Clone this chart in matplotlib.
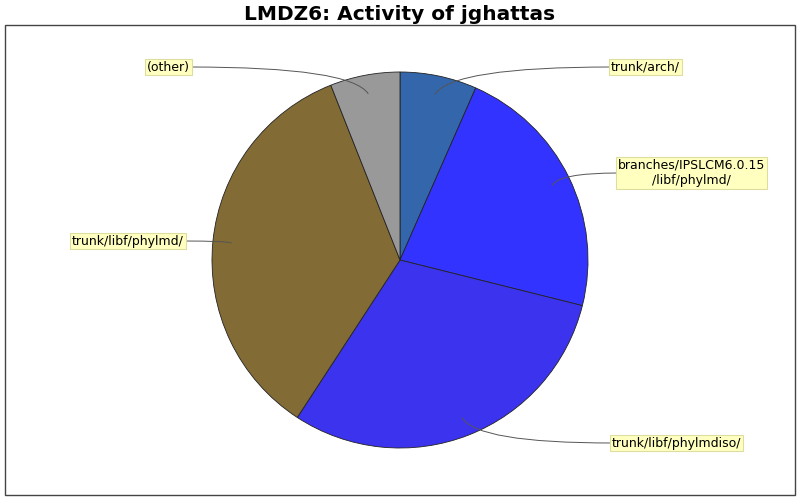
import matplotlib
matplotlib.use("Agg")
import matplotlib.pyplot as plt
import numpy as np
from matplotlib.path import Path
from matplotlib.patches import PathPatch, Rectangle

labels = ["trunk/arch/", "branches/IPSLCM6.0.15\n/libf/phylmd/", "trunk/libf/phylmdiso/",
          "trunk/libf/phylmd/", "(other)"]
values = [6.6, 22.3, 30.3, 34.8, 6.0]
colors = ["#3366aa", "#3333ff", "#3b33ee", "#836b35", "#999999"]

W, H = 800, 500
fig = plt.figure(figsize=(8, 5), dpi=100)
ax = fig.add_axes([0, 0, 1, 1])

ax.add_patch(Rectangle((5, 5), 790, 470, fill=False, edgecolor="#444444", lw=1))
ax.text(400, 486, "LMDZ6: Activity of jghattas", ha="center", va="center",
        fontsize=14.5, fontweight="bold", fontfamily="DejaVu Sans")

cx, cy, R = 400, 240, 188
wedges, _ = ax.pie(values, colors=colors, startangle=90, counterclock=False,
                   center=(cx, cy), radius=R, frame=True,
                   wedgeprops=dict(edgecolor="#222222", linewidth=0.6))
ax.set_xlim(0, W)
ax.set_ylim(0, H)
ax.set_aspect("equal")
ax.axis("off")

# label positions (pixel coords, y up): (x, y, ha)
label_pos = [(611, 433, "left"), (618, 327, "left"), (612, 57, "left"),
             (184, 259, "right"), (190, 433, "right")]

for w, (lx, ly, ha), lab in zip(wedges, label_pos, labels):
    mid = np.deg2rad((w.theta1 + w.theta2) / 2)
    sx = cx + 0.9 * R * np.cos(mid)
    sy = cy + 0.9 * R * np.sin(mid)
    verts = [(sx, sy), (sx + 0.1 * (lx - sx), ly), (lx, ly)]
    p = Path(verts, [Path.MOVETO, Path.CURVE3, Path.CURVE3])
    ax.add_patch(PathPatch(p, fill=False, edgecolor="#555555", lw=0.7))
    ax.text(lx, ly, lab, ha=ha, va="center", fontsize=9, multialignment="center",
            bbox=dict(boxstyle="square,pad=0.15", facecolor="#ffffc0", edgecolor="#dddda0", lw=0.8),
            zorder=5)

fig.savefig("out.png", dpi=100)
